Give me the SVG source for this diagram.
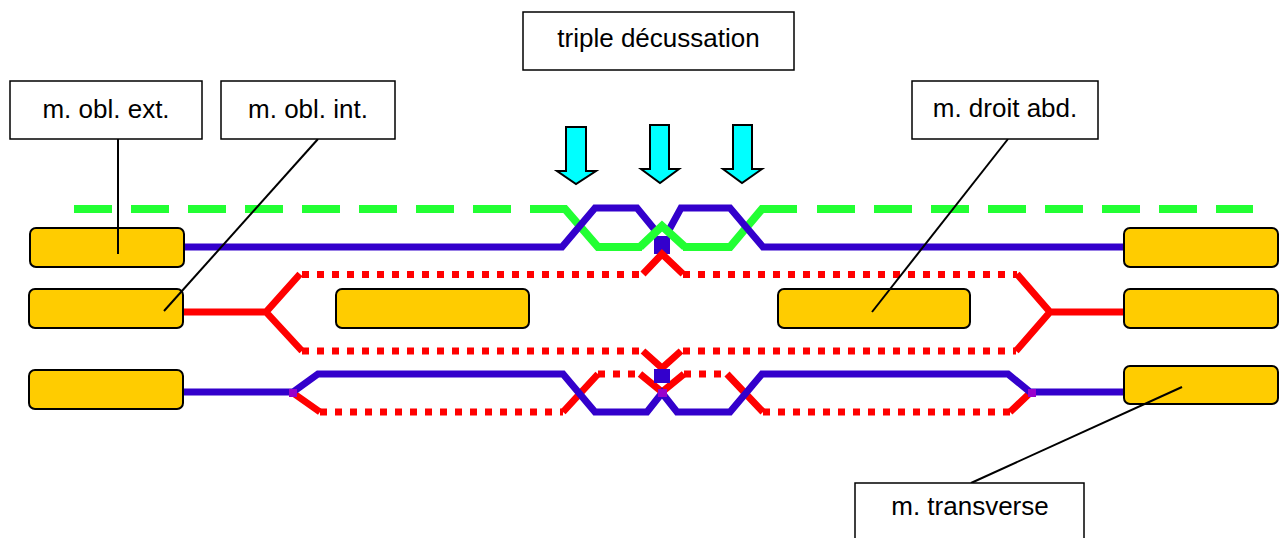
<svg xmlns="http://www.w3.org/2000/svg" width="1284" height="538" viewBox="0 0 1284 538">
  <style>
    .label rect { fill: #ffffff; stroke: #000000; stroke-width: 1.5; }
    .label text { font-family: "Liberation Sans", Arial, sans-serif; font-size: 26px; fill: #000000; text-anchor: middle; }
    .muscle rect { fill: #ffcc00; stroke: #000000; stroke-width: 2; }
    .leader { stroke: #000000; stroke-width: 2; fill: none; }
    .blue { stroke: #3300cc; stroke-width: 7; fill: none; stroke-linejoin: miter; }
    .bluefill { fill: #3300cc; }
    .red { stroke: #ff0000; stroke-width: 7; fill: none; }
    .dots { stroke: #ff0000; stroke-width: 7; fill: none; stroke-dasharray: 7 8; }
    .green { stroke: #22ff33; stroke-width: 8; fill: none; }
    .dash { stroke: #22ff33; stroke-width: 8; fill: none; stroke-dasharray: 38 19; }
    .arrow { fill: #00ffff; stroke: #000000; stroke-width: 2; stroke-linejoin: miter; }
    .join { fill: #9900cc; }
  </style>
  <rect width="1284" height="538" fill="#ffffff"/>

  <!-- fibre layers -->
  <g id="fibres">
    <!-- green outer sheet (dashed) -->
    <line class="dash" x1="74" y1="209" x2="512" y2="209"/>
    <line class="dash" x1="817" y1="209" x2="1253" y2="209"/>
    <path class="green" d="M530 209 H565 L598 247 H642 M683 247 H730 L762 209 H797"/>

    <!-- row 1 blue -->
    <path class="blue" d="M184 247 H562 L595 208 H637 L655 230"/>
    <path class="blue" d="M1124 247 H763 L730 208 H681 L669 230"/>
    <rect class="bluefill" x="654" y="236" width="16" height="18"/>
    <path class="green" d="M640 247 L662 226 L685 247"/>

    <!-- row 2 red -->
    <path class="red" d="M183 312 H266 L300 274 M266 312 L302 351"/>
    <path class="red" d="M1124 312 H1050 L1017 274 M1050 312 L1016 351"/>
    <path class="red" d="M643 274 L662 254 L683 274"/>
    <path class="red" d="M643 351 L662 368 L681 351"/>
    <line class="dots" x1="302" y1="274.5" x2="643" y2="274.5"/>
    <line class="dots" x1="683" y1="274.5" x2="1017" y2="274.5"/>
    <line class="dots" x1="302" y1="351" x2="643" y2="351"/>
    <line class="dots" x1="683" y1="351" x2="1016" y2="351"/>

    <!-- row 3 red -->
    <path class="red" d="M293 393 L320 412 M563 412 L598 374 M640 374 L662 392 L684 374 M727 374 L763 412 M1010 412 L1030 393"/>
    <line class="dots" x1="320" y1="412" x2="563" y2="412"/>
    <line class="dots" x1="598" y1="374" x2="640" y2="374"/>
    <line class="dots" x1="684" y1="374" x2="727" y2="374"/>
    <line class="dots" x1="763" y1="412" x2="1010" y2="412"/>

    <!-- row 3 blue -->
    <path class="blue" d="M183 392 H293 L318 374 H563 L595 412 H647 L662 393 L677 412 H730 L762 374 H1008 L1030 392 H1124"/>
    <rect class="bluefill" x="654" y="369" width="16" height="14"/>

    <rect class="join" x="289" y="389" width="8" height="8"/>
    <rect class="join" x="658" y="389" width="9" height="8"/>
    <rect class="join" x="1028" y="389" width="8" height="8"/>
  </g>

  <!-- crossing arrows -->
  <g id="arrows">
    <polygon class="arrow" points="566,127 586,127 586,171 596,171 576,184 557,171 566,171"/>
    <polygon class="arrow" points="650,125 669,125 669,169 679,169 660,183 641,169 650,169"/>
    <polygon class="arrow" points="733,125 752,125 752,169 762,169 742,183 723,169 733,169"/>
  </g>

  <!-- muscle blocks -->
  <g id="m-left-1" class="muscle"><rect x="30" y="228" width="154" height="39" rx="6"/></g>
  <g id="m-left-2" class="muscle"><rect x="29" y="289" width="154" height="39" rx="6"/></g>
  <g id="m-left-3" class="muscle"><rect x="29" y="370" width="154" height="39" rx="6"/></g>
  <g id="m-right-1" class="muscle"><rect x="1124" y="228" width="154" height="39" rx="6"/></g>
  <g id="m-right-2" class="muscle"><rect x="1124" y="289" width="154" height="39" rx="6"/></g>
  <g id="m-right-3" class="muscle"><rect x="1124" y="366" width="154" height="38" rx="6"/></g>
  <g id="m-mid-left" class="muscle"><rect x="336" y="289" width="193" height="39" rx="6"/></g>
  <g id="m-mid-right" class="muscle"><rect x="778" y="289" width="192" height="39" rx="6"/></g>

  <!-- leader lines -->
  <g id="connectors">
    <line class="leader" x1="118" y1="139" x2="118" y2="254"/>
    <line class="leader" x1="318" y1="139" x2="164" y2="311"/>
    <line class="leader" x1="1008" y1="139" x2="872" y2="312"/>
    <line class="leader" x1="971" y1="483" x2="1182" y2="387"/>
  </g>

  <!-- labels -->
  <g id="label-obl-ext" class="label">
    <rect x="10" y="81" width="192" height="58"/>
    <text x="106" y="118">m. obl. ext.</text>
  </g>
  <g id="label-obl-int" class="label">
    <rect x="221" y="81" width="174" height="58"/>
    <text x="308" y="118">m. obl. int.</text>
  </g>
  <g id="label-decussation" class="label">
    <rect x="523" y="12" width="271" height="58"/>
    <text x="658.5" y="47">triple décussation</text>
  </g>
  <g id="label-droit" class="label">
    <rect x="912" y="81" width="186" height="58"/>
    <text x="1005" y="117">m. droit abd.</text>
  </g>
  <g id="label-transverse" class="label">
    <rect x="855" y="483" width="229" height="70"/>
    <text x="970" y="515">m. transverse</text>
  </g>
</svg>
